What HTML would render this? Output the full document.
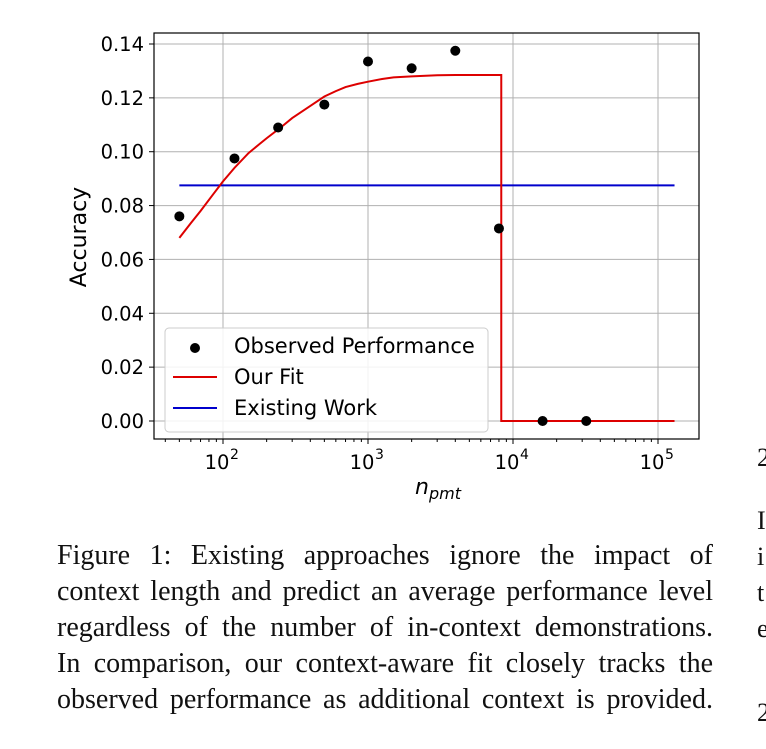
<!DOCTYPE html>
<html><head><meta charset="utf-8"><style>
body{margin:0;width:766px;height:749px;background:#fff;position:relative;overflow:hidden}
#cap{position:absolute;left:57px;top:538px;width:656px;font:28px/36px "Liberation Serif",serif;color:#111}
#cap div{text-align:justify;text-align-last:justify;white-space:nowrap;height:36px}
.r{position:absolute;left:757px;font:26px "Liberation Serif",serif;color:#111}
</style></head><body>
<svg id="chart" width="766" height="520" style="position:absolute;left:0;top:0" font-family="DejaVu Sans, sans-serif"></svg>
<div id="cap">
<div>Figure 1: Existing approaches ignore the impact of</div>
<div>context length and predict an average performance level</div>
<div>regardless of the number of in-context demonstrations.</div>
<div>In comparison, our context-aware fit closely tracks the</div>
<div>observed performance as additional context is provided.</div>
</div>
<div class="r" style="top:443px">2</div>
<div class="r" style="top:506px">I</div>
<div class="r" style="top:542px">i</div>
<div class="r" style="top:578px">t</div>
<div class="r" style="top:614px">e</div>
<div class="r" style="top:698px">2</div>
<script>
const obsX=[50,120,240,500,1000,2000,4000,8000,16000,32000];
const obsY=[0.076,0.0975,0.109,0.1175,0.1335,0.131,0.1375,0.0715,0,0];
const fitX=[50,60,70,85,100,120,150,180,200,250,300,400,500,600,700,850,1000,1250,1500,2000,3000,4000,8300,8301,130000];
const fitY=[0.068,0.0735,0.078,0.084,0.089,0.094,0.0995,0.103,0.105,0.109,0.1125,0.117,0.1205,0.1225,0.124,0.1252,0.126,0.127,0.1276,0.128,0.1284,0.1285,0.1285,0,0];
const baseX=[50,130000];
const baseY=[0.0875,0.0875];
const yTicks=[0,0.02,0.04,0.06,0.08,0.10,0.12,0.14];
const xDecades=[2,3,4,5];
const L=154,R=699,T=33,B=439;
const sx=v=>223+(Math.log10(v)-2)*145;
const sy=v=>421-v/0.14*377;
const svg=document.getElementById('chart');
const NS='http://www.w3.org/2000/svg';
function mk(t,a,p){const e=document.createElementNS(NS,t);for(const k in a)e.setAttribute(k,a[k]);(p||svg).appendChild(e);return e;}
yTicks.forEach(v=>{
 const g=mk('line',{x1:L,x2:R,y1:sy(v),y2:sy(v),stroke:'#b0b0b0','stroke-width':1});
 
 
 mk('line',{x1:L-5,x2:L,y1:sy(v),y2:sy(v),stroke:'#000'});
 const t=mk('text',{x:L-10,y:sy(v)+7,'text-anchor':'end','font-size':19.5});t.textContent=v.toFixed(2);
 
 
});
xDecades.forEach(d=>{
 const x=sx(Math.pow(10,d));
 const g=mk('line',{x1:x,x2:x,y1:T,y2:B,stroke:'#b0b0b0'});
 
 
 mk('line',{x1:x,x2:x,y1:B,y2:B+5,stroke:'#000'});
 const t=mk('text',{x:x-6,y:B+30,'text-anchor':'middle','font-size':19.5});t.textContent='10';
 
 
 const s=mk('text',{x:x+7,y:B+20,'font-size':14});s.textContent=d;
});
for(let d=1;d<=5;d++)for(let m=2;m<=9;m++){const x=sx(m*Math.pow(10,d));if(x>L&&x<R)mk('line',{x1:x,x2:x,y1:B,y2:B+3,stroke:'#000'});}
function path(xs,ys,c,name){const p=mk('path',{d:xs.map((x,i)=>(i?'L':'M')+sx(x)+','+sy(ys[i])).join(''),stroke:c,fill:'none','stroke-width':2});
 
 }
path(baseX,baseY,'#0000cc','existing-work-line');
path(fitX,fitY,'#dd0000','our-fit-line');
obsX.forEach((x,i)=>{const c=mk('circle',{cx:sx(x),cy:sy(obsY[i]),r:5,fill:'#000'});
 
 });
mk('rect',{x:L,y:T,width:R-L,height:B-T,fill:'none',stroke:'#000','stroke-width':1.2});
const lg=mk('g',{});


mk('rect',{x:165,y:328,width:323,height:104,rx:4,fill:'rgba(255,255,255,0.85)',stroke:'#ccc'},lg);
mk('circle',{cx:195,cy:348,r:5,fill:'#000'},lg);
mk('line',{x1:173,x2:217,y1:377,y2:377,stroke:'#dd0000','stroke-width':2},lg);
mk('line',{x1:173,x2:217,y1:408,y2:408,stroke:'#0000cc','stroke-width':2},lg);
[['Observed Performance',353],['Our Fit',384],['Existing Work',415]].forEach(([s,y])=>{const t=mk('text',{x:234,y:y,'font-size':21},lg);t.textContent=s;
 
 });
const yt=mk('text',{x:86,y:237,'text-anchor':'middle','font-size':22,transform:'rotate(-90 86 237)'});yt.textContent='Accuracy';


const xt=mk('text',{x:415,y:494,'font-size':22,'font-style':'italic'});xt.textContent='n';


const xs=mk('text',{x:429,y:499,'font-size':16,'font-style':'italic'});xs.textContent='pmt';
</script>
</body></html>
